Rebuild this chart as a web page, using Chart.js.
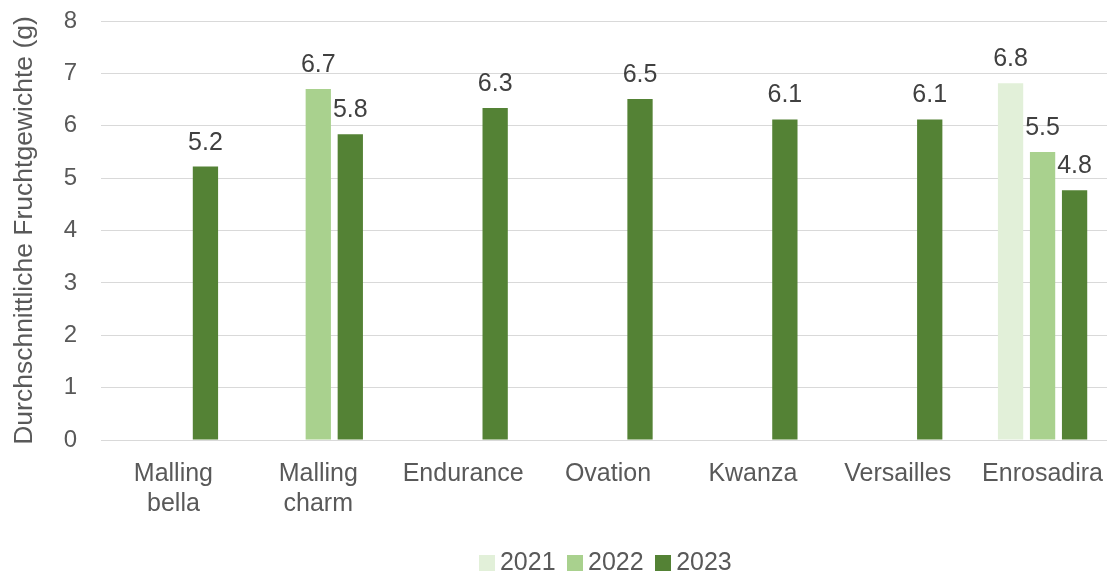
<!DOCTYPE html>
<html>
<head>
<meta charset="utf-8">
<script src="https://cdn.jsdelivr.net/npm/chart.js@4/dist/chart.umd.min.js"></script>
<style>
  html, body { margin: 0; padding: 0; background: #fff; overflow: hidden; }
  #wrap { width: 1215px; height: 600px; position: relative; }
</style>
</head>
<body>
<div id="wrap"><canvas id="chart"></canvas></div>
<script>
const categories = [
  ["Malling", "bella"],
  ["Malling", "charm"],
  "Endurance",
  "Ovation",
  "Kwanza",
  "Versailles",
  "Enrosadira",
];
const years = ["2021", "2022", "2023"];
const values2021 = [null, null, null, null, null, null, 6.81];
const values2022 = [null, 6.70, null, null, null, null, 5.50];
const values2023 = [5.22, 5.84, 6.34, 6.51, 6.12, 6.12, 4.77];
const yTicks = [0, 1, 2, 3, 4, 5, 6, 7, 8];
const colors = ["#E2F0D9", "#A9D18E", "#548235"];

const FONT = "'Liberation Sans', Arial, sans-serif";
const TEXT_GREY = "#595959";

// square swatches for the legend (lets the text sit close to the box)
const swatches = colors.map((c) => {
  const cv = document.createElement("canvas");
  cv.width = 16;
  cv.height = 16;
  const g = cv.getContext("2d");
  g.fillStyle = c;
  g.fillRect(0, 0, 16, 16);
  return cv;
});

const valueLabels = {
  id: "valueLabels",
  afterDatasetsDraw(chart) {
    const { ctx } = chart;
    ctx.save();
    ctx.font = `25px ${FONT}`;
    ctx.fillStyle = "#404040";
    ctx.textAlign = "center";
    ctx.textBaseline = "alphabetic";
    chart.data.datasets.forEach((ds, i) => {
      const meta = chart.getDatasetMeta(i);
      meta.data.forEach((bar, j) => {
        const v = ds.data[j];
        if (v === null || v === undefined) return;
        ctx.fillText(v.toFixed(1), bar.x, bar.y - 17);
      });
    });
    ctx.restore();
  },
};

// nudge the legend so it sits where the original one was
const legendShift = {
  id: "legendShift",
  afterLayout(chart) {
    chart.legend.left += 51.6;
    chart.legend.right += 51.6;
  },
};

new Chart(document.getElementById("chart"), {
  type: "bar",
  data: {
    labels: categories,
    datasets: [
      { label: years[0], data: values2021, backgroundColor: colors[0] },
      { label: years[1], data: values2022, backgroundColor: colors[1] },
      { label: years[2], data: values2023, backgroundColor: colors[2] },
    ],
  },
  options: {
    responsive: true,
    maintainAspectRatio: false,
    animation: false,
    datasets: {
      bar: {
        categoryPercentage: 0.663,
        barPercentage: 0.79,
      },
    },
    layout: {
      padding: { top: 21, right: 100, bottom: 14.5, left: 0 },
    },
    plugins: {
      legend: {
        position: "bottom",
        labels: {
          usePointStyle: true,
          pointStyleWidth: 1,
          boxHeight: 16,
          padding: 19,
          color: TEXT_GREY,
          font: { family: FONT, size: 25 },
          generateLabels: (chart) =>
            Chart.defaults.plugins.legend.labels
              .generateLabels(chart)
              .map((item, i) => ({ ...item, pointStyle: swatches[i] })),
        },
      },
      tooltip: { enabled: false },
    },
    scales: {
      x: {
        grid: { display: false, drawTicks: false },
        border: { display: true, color: "#D9D9D9", width: 1 },
        ticks: {
          color: TEXT_GREY,
          font: { family: FONT, size: 25, lineHeight: 1.2 },
          padding: 19,
          maxRotation: 0,
          autoSkip: false,
        },
        afterFit: (scale) => {
          scale.height = 91.5;
        },
      },
      y: {
        min: 0,
        max: 8,
        afterBuildTicks: (scale) => {
          scale.ticks = yTicks.map((v) => ({ value: v }));
        },
        grid: { color: "#D9D9D9", drawTicks: false },
        border: { display: false },
        ticks: {
          color: TEXT_GREY,
          font: { family: FONT, size: 24 },
          padding: 24,
        },
        title: {
          display: true,
          text: "Durchschnittliche Fruchtgewichte (g)",
          color: TEXT_GREY,
          font: { family: FONT, size: 26.5 },
          padding: { top: 9, bottom: 0 },
        },
        afterFit: (scale) => {
          scale.width = 101;
          scale.paddingTop = 0;
          scale.paddingBottom = 0;
        },
      },
    },
  },
  plugins: [valueLabels, legendShift],
});
</script>
</body>
</html>
